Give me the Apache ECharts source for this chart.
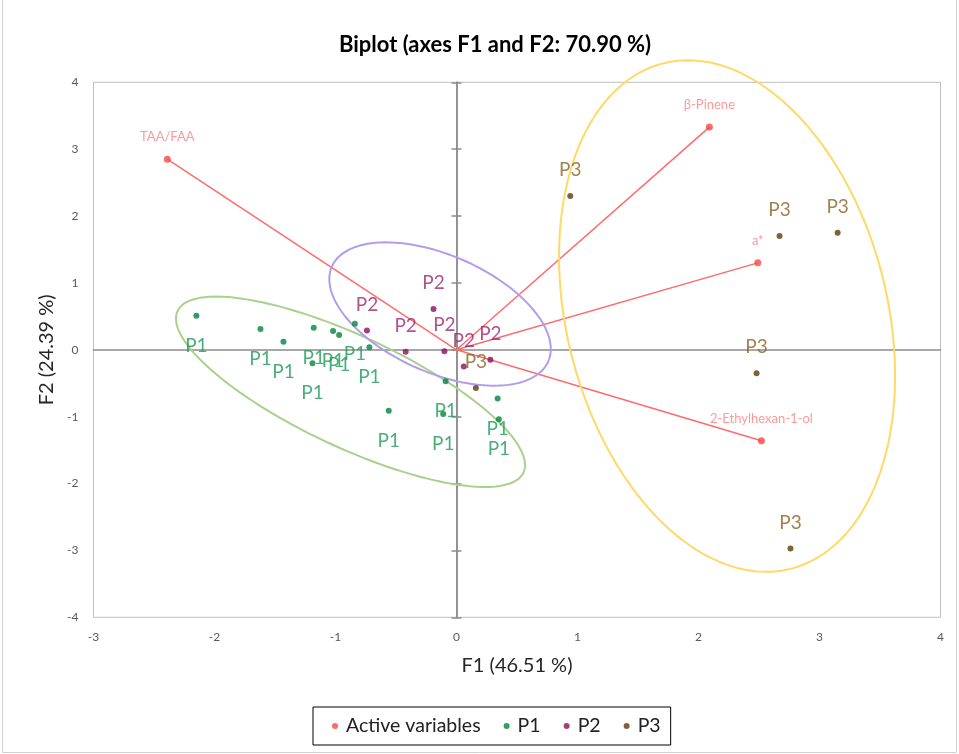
<!DOCTYPE html>
<html>
<head>
<meta charset="utf-8">
<script src="https://cdn.jsdelivr.net/npm/echarts@6/dist/echarts.min.js"></script>
<style>
  html, body { margin: 0; padding: 0; background: #fff; }
  #chart { width: 959px; height: 754px; }
</style>
</head>
<body>
<div id="chart"></div>
<script>
// Active variables (loadings on F1 / F2)
const varNames = ['TAA/FAA', 'β-Pinene', 'a*', '2-Ethylhexan-1-ol'];
const varF1 = [-2.39, 2.09, 2.49, 2.52];
const varF2 = [2.85, 3.33, 1.30, -1.36];

// Observation scores per group
const p1F1 = [-2.15, -1.62, -1.43, -1.18, -1.02, -0.97, -0.84, -0.72, -1.19, -0.56, -0.09, -0.11, 0.34, 0.35];
const p1F2 = [0.51, 0.31, 0.12, 0.33, 0.28, 0.22, 0.39, 0.04, -0.20, -0.91, -0.47, -0.96, -0.73, -1.04];
const p2F1 = [-0.19, -0.74, -0.42, -0.10, 0.28, 0.06];
const p2F2 = [0.61, 0.29, -0.03, -0.02, -0.15, -0.25];
const p3F1 = [0.94, 2.67, 3.15, 2.48, 2.76, 0.16];
const p3F2 = [2.30, 1.70, 1.75, -0.35, -2.97, -0.57];

// Confidence ellipses per group (centre, semi-axes, rotation in degrees)
const ellipseGroups = ['P1', 'P2', 'P3'];
const ellipseCx = [-0.876, -0.136, 2.236];
const ellipseCy = [-0.628, 0.535, 0.505];
const ellipseRx = [1.906, 1.223, 3.840];
const ellipseRy = [0.688, 0.700, 1.345];
const ellipseAngle = [-44.5, -54.0, -84.5];
const ellipseColors = ['#A9D18E', '#B49CEB', '#FFD966'];

// Axis ranges
const xMin = -3, xMax = 4;
const yMin = -4, yMax = 4;

const FONT = 'Lato, "Liberation Sans", sans-serif';

function pairs(xs, ys) {
  return xs.map((x, i) => [x, ys[i]]);
}

function groupSeries(name, xs, ys, dotColor, labelColor, offsetY) {
  return {
    name: name,
    type: 'scatter',
    z: 5,
    symbol: 'circle',
    symbolSize: 6,
    itemStyle: { color: dotColor },
    data: pairs(xs, ys),
    label: {
      show: true,
      position: 'inside',
      offset: [0, offsetY],
      formatter: name,
      color: labelColor,
      fontFamily: FONT,
      fontSize: 19
    },
    emphasis: { disabled: true }
  };
}

const chart = echarts.init(document.getElementById('chart'), null, { renderer: 'canvas' });

const option = {
  animation: false,
  backgroundColor: '#ffffff',
  title: {
    text: 'Biplot (axes F1 and F2: 70.90 %)',
    left: 490,
    top: 29,
    textAlign: 'center',
    textStyle: { fontFamily: FONT, fontSize: 22, fontWeight: 'bold', color: '#000' }
  },
  legend: {
    data: ['Active variables', 'P1', 'P2', 'P3'],
    left: 313,
    top: 707,
    orient: 'horizontal',
    icon: 'circle',
    itemWidth: 12,
    itemHeight: 6,
    itemGap: 23,
    padding: [8, 10, 8, 19],
    borderColor: '#000',
    borderWidth: 1,
    borderRadius: 0,
    textStyle: { fontFamily: FONT, fontSize: 19.5, color: '#222', lineHeight: 22 }
  },
  grid: {
    left: 93.5, right: 18.5, top: 82.3, bottom: 136.7,
    show: true, borderColor: '#BFBFBF', borderWidth: 1
  },
  xAxis: [
    {
      type: 'value', min: xMin, max: xMax, interval: 1,
      axisLine: { show: false }, axisTick: { show: false }, splitLine: { show: false },
      axisLabel: { margin: 14, color: '#595959', fontFamily: FONT, fontSize: 12 },
      name: 'F1 (46.51 %)', nameLocation: 'middle', nameGap: 38,
      nameTextStyle: { fontFamily: FONT, fontSize: 20, color: '#262626' }
    },
    {
      type: 'value', min: xMin, max: xMax, interval: 1,
      axisLine: { show: true, onZero: true, onZeroAxisIndex: 0, lineStyle: { color: '#8C8C8C', width: 1.5 } },
      axisTick: { show: false }, axisLabel: { show: false }, splitLine: { show: false }
    }
  ],
  yAxis: [
    {
      type: 'value', min: yMin, max: yMax, interval: 1, position: 'left',
      axisLine: { show: false }, axisTick: { show: false }, splitLine: { show: false },
      axisLabel: { margin: 15, color: '#595959', fontFamily: FONT, fontSize: 12 },
      name: 'F2 (24.39 %)', nameLocation: 'middle', nameGap: 37,
      nameTextStyle: { fontFamily: FONT, fontSize: 20, color: '#262626' }
    },
    {
      type: 'value', min: yMin, max: yMax, interval: 1, position: 'left', offset: 0,
      axisLine: { show: true, onZero: true, onZeroAxisIndex: 0, lineStyle: { color: '#8C8C8C', width: 1.5 } },
      axisTick: { show: true, inside: true, length: 5, lineStyle: { color: '#8C8C8C', width: 1.5 } },
      axisLabel: { show: false }, splitLine: { show: false }
    },
    {
      type: 'value', min: yMin, max: yMax, interval: 1, position: 'left', offset: 0,
      axisLine: { show: true, onZero: true, onZeroAxisIndex: 0, lineStyle: { color: '#8C8C8C', width: 1.5 } },
      axisTick: { show: true, inside: false, length: 5, lineStyle: { color: '#8C8C8C', width: 1.5 } },
      axisLabel: { show: false }, splitLine: { show: false }
    }
  ],
  series: [
    // vectors from the origin to each active variable
    {
      name: 'vectors',
      type: 'lines',
      coordinateSystem: 'cartesian2d',
      z: 2,
      silent: true,
      symbol: ['none', 'none'],
      lineStyle: { color: '#FF6B6B', width: 1.5, opacity: 1 },
      data: varF1.map((x, i) => ({ coords: [[0, 0], [x, varF2[i]]] }))
    },
    // group confidence ellipses
    {
      name: 'ellipses',
      type: 'custom',
      z: 3,
      silent: true,
      clip: false,
      data: ellipseGroups.map((g, i) => [ellipseCx[i], ellipseCy[i]]),
      renderItem: function (params, api) {
        const i = params.dataIndex;
        const a = ellipseAngle[i] * Math.PI / 180;
        const ca = Math.cos(a), sa = Math.sin(a);
        const pts = [];
        const n = 180;
        for (let k = 0; k <= n; k++) {
          const t = 2 * Math.PI * k / n;
          const ex = ellipseRx[i] * Math.cos(t);
          const ey = ellipseRy[i] * Math.sin(t);
          pts.push(api.coord([ellipseCx[i] + ex * ca - ey * sa, ellipseCy[i] + ex * sa + ey * ca]));
        }
        return {
          type: 'polyline',
          shape: { points: pts },
          style: { stroke: ellipseColors[i], lineWidth: 2, fill: null }
        };
      }
    },
    {
      name: 'Active variables',
      type: 'scatter',
      z: 5,
      symbol: 'circle',
      symbolSize: 7,
      itemStyle: { color: '#FF4545' },
      data: varF1.map((x, i) => ({ name: varNames[i], value: [x, varF2[i]] })),
      label: {
        show: true,
        position: 'inside',
        offset: [0, -22],
        formatter: '{b}',
        color: '#FF7F7F',
        fontFamily: FONT,
        fontSize: 13
      },
      emphasis: { disabled: true }
    },
    groupSeries('P1', p1F1, p1F2, '#00843D', '#1E9A57', 30),
    groupSeries('P2', p2F1, p2F2, '#8E0F5A', '#A0266F', -26),
    groupSeries('P3', p3F1, p3F2, '#5E3C06', '#8A6327', -26)
  ],
  graphic: [
    {
      type: 'rect',
      silent: true,
      shape: { x: 2.5, y: -1, width: 954, height: 753.5 },
      style: { fill: null, stroke: '#D0D0D0', lineWidth: 1 }
    }
  ]
};

chart.setOption(option);
</script>
</body>
</html>
